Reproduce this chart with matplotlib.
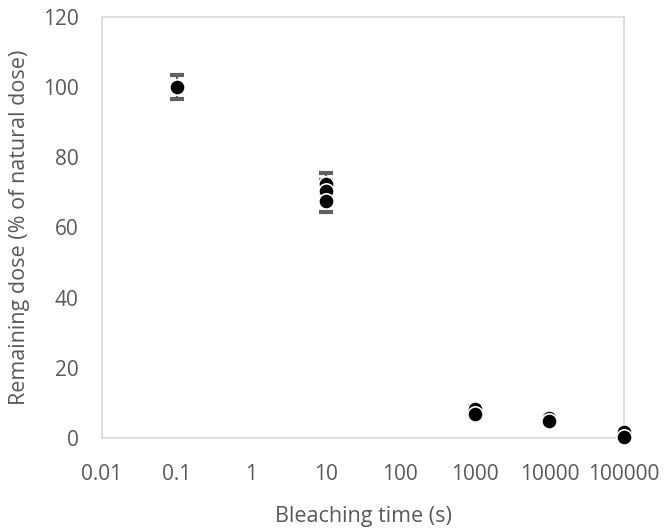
import matplotlib.pyplot as plt
from matplotlib.ticker import FixedLocator, FixedFormatter

# bleaching time (s) and remaining dose (% of natural dose)
times = [0.1, 10, 10, 10, 1000, 1000, 10000, 10000, 100000, 100000]
doses = [100, 72.5, 70.5, 67.5, 8.4, 6.9, 5.6, 4.8, 1.8, 0.4]
errors = [3.5, 3.0, 3.0, 3.0, 0.8, 0.8, 0.6, 0.6, 0.5, 0.5]

x_ticks = [0.01, 0.1, 1, 10, 100, 1000, 10000, 100000]
x_labels = ["0.01", "0.1", "1", "10", "100", "1000", "10000", "100000"]
y_ticks = [0, 20, 40, 60, 80, 100, 120]

plt.rcParams["font.family"] = ["Open Sans", "DejaVu Sans"]

fig = plt.figure(figsize=(6.65, 5.29), dpi=100)
ax = fig.add_axes([0.1534, 0.172, 0.785, 0.796])

ax.errorbar(times, doses, yerr=errors, fmt="none", ecolor="#606060",
            elinewidth=1.5, capsize=5, capthick=3, zorder=2, clip_on=False)
ax.plot(times, doses, "o", color="black", markersize=11,
        markeredgecolor="white", markeredgewidth=1.2, zorder=3, clip_on=False)

ax.set_xscale("log")
ax.set_xlim(0.01, 100000)
ax.set_ylim(0, 120)
ax.xaxis.set_major_locator(FixedLocator(x_ticks))
ax.xaxis.set_major_formatter(FixedFormatter(x_labels))
ax.xaxis.set_minor_locator(FixedLocator([]))
ax.set_yticks(y_ticks)

for spine in ax.spines.values():
    spine.set_color("#d9d9d9")
    spine.set_linewidth(1.2)

ax.tick_params(axis="x", length=0, labelsize=15, colors="#595959", pad=19)
ax.tick_params(axis="y", length=0, labelsize=15, colors="#595959", pad=17)
ax.set_xlabel("Bleaching time (s)", fontsize=15.5, color="#595959", labelpad=15)
ax.set_ylabel("Remaining dose (% of natural dose)", fontsize=15.5,
              color="#595959", labelpad=9)

fig.savefig("out.png", dpi=100)
